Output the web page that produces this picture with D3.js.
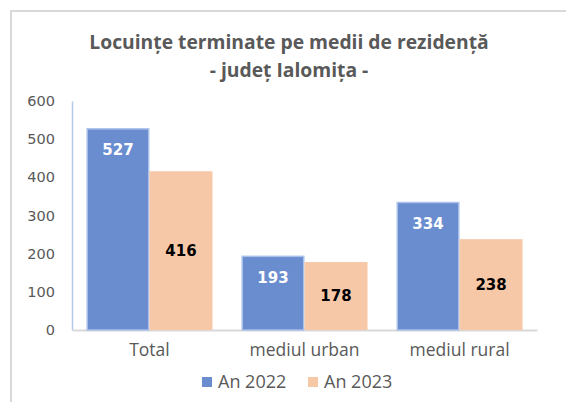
<!DOCTYPE html>
<html>
<head>
<meta charset="utf-8">
<script src="https://cdn.jsdelivr.net/npm/d3@7"></script>
<style>
  body { margin: 0; background: white; }
  svg { display: block; }
</style>
</head>
<body>
<div id="chart"></div>
<script>
const categories = ["Total", "mediul urban", "mediul rural"];
const seriesNames = ["An 2022", "An 2023"];
const values2022 = [527, 193, 334];
const values2023 = [416, 178, 238];
const yTicks = [0, 100, 200, 300, 400, 500, 600];
const titleLines = ["Locuințe terminate pe medii de rezidență", "- județ Ialomița -"];

const width = 566, height = 402;
const margin = { top: 101, right: 29, bottom: 72, left: 72 };
const colors = ["#6a8dd0", "#f7c8a7"];

const svg = d3.select("#chart").append("svg")
  .attr("width", width)
  .attr("height", height);

// chart frame (only top and left edges visible)
svg.append("path")
  .attr("d", `M11,${height} V11 H${width}`)
  .attr("fill", "none")
  .attr("stroke", "#d9d9d9")
  .attr("stroke-width", 2);

const title = svg.append("text")
  .attr("text-anchor", "middle")
  .style("font-family", "'Open Sans', sans-serif")
  .style("font-size", "19.3px")
  .style("font-weight", "bold")
  .attr("fill", "#595959");
title.selectAll("tspan")
  .data(titleLines)
  .join("tspan")
  .attr("x", 289)
  .attr("y", (d, i) => 49 + i * 28)
  .text(d => d);

const innerW = width - margin.left - margin.right;
const innerH = height - margin.top - margin.bottom;

const g = svg.append("g")
  .attr("transform", `translate(${margin.left},${margin.top})`);

const x0 = d3.scaleBand()
  .domain(categories)
  .range([0, innerW])
  .paddingInner(0.187)
  .paddingOuter(0.093);

const x1 = d3.scaleBand()
  .domain(seriesNames)
  .range([0, x0.bandwidth()]);

const y = d3.scaleLinear()
  .domain([0, 600])
  .range([innerH, 0]);

// y axis
const yAxis = g.append("g")
  .call(d3.axisLeft(y).tickValues(yTicks).tickSize(0).tickPadding(17));
yAxis.select(".domain").attr("stroke", "#b4c7e7").attr("stroke-width", 1.5);
yAxis.selectAll("text")
  .style("font-family", "'DejaVu Sans', sans-serif")
  .style("font-size", "14.5px")
  .attr("fill", "#595959");

// x axis
const xAxis = g.append("g")
  .attr("transform", `translate(0,${innerH})`)
  .call(d3.axisBottom(x0).tickSize(0).tickPadding(14));
xAxis.select(".domain").attr("stroke", "#d9d9d9").attr("stroke-width", 2);
xAxis.selectAll("text")
  .style("font-family", "'Open Sans', sans-serif")
  .style("font-size", "17.5px")
  .attr("fill", "#595959");

const rows = categories.map((c, i) => ({
  category: c,
  vals: [
    { series: seriesNames[0], value: values2022[i], idx: 0 },
    { series: seriesNames[1], value: values2023[i], idx: 1 }
  ]
}));

const groups = g.selectAll(".grp")
  .data(rows)
  .join("g")
  .attr("class", "grp")
  .attr("transform", d => `translate(${x0(d.category)},0)`);

groups.selectAll("rect")
  .data(d => d.vals)
  .join("rect")
  .attr("x", d => x1(d.series) + (d.idx === 0 ? 0.75 : 0))
  .attr("y", d => y(d.value))
  .attr("width", d => x1.bandwidth() - (d.idx === 0 ? 1.5 : 0))
  .attr("height", d => innerH - y(d.value))
  .attr("fill", d => colors[d.idx])
  .attr("stroke", d => d.idx === 0 ? "#a9c0ea" : "none")
  .attr("stroke-width", 1.5);

// data labels: 2022 inside end, 2023 centered
groups.selectAll(".lbl")
  .data(d => d.vals)
  .join("text")
  .attr("class", "lbl")
  .attr("x", d => x1(d.series) + x1.bandwidth() / 2)
  .attr("y", d => d.idx === 0 ? y(d.value) + 21 : (y(d.value) + innerH) / 2)
  .attr("dy", "0.35em")
  .attr("text-anchor", "middle")
  .style("font-family", "'DejaVu Sans', sans-serif")
  .style("font-size", "15px")
  .style("font-weight", "bold")
  .attr("fill", d => d.idx === 0 ? "#ffffff" : "#000000")
  .text(d => d.value);

// legend
const legendX = [202, 308];
const legend = svg.append("g")
  .selectAll("g")
  .data(seriesNames)
  .join("g")
  .attr("transform", (d, i) => `translate(${legendX[i]},382)`);
legend.append("rect")
  .attr("x", 0)
  .attr("y", -5)
  .attr("width", 10)
  .attr("height", 10)
  .attr("fill", (d, i) => colors[i]);
legend.append("text")
  .attr("x", 16)
  .attr("dy", "0.35em")
  .style("font-family", "'Open Sans', sans-serif")
  .style("font-size", "18px")
  .attr("fill", "#595959")
  .text(d => d);
</script>
</body>
</html>
